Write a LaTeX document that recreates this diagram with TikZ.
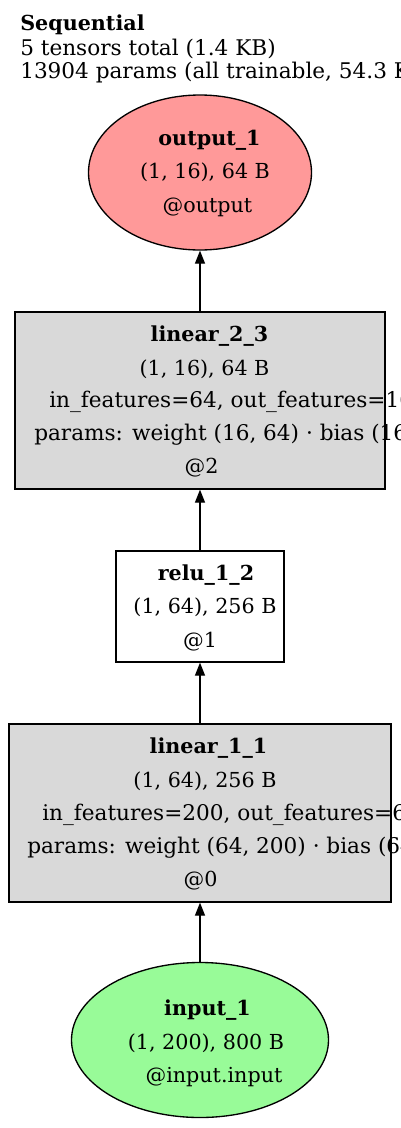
\documentclass[tikz,border=0pt]{standalone}
\usepackage{fontspec}
\setmainfont{DejaVu Serif}
\usetikzlibrary{shapes.geometric,arrows.meta}
\definecolor{outfill}{HTML}{FF9999}
\definecolor{infill}{HTML}{98FB98}
\definecolor{layerfill}{HTML}{D9D9D9}
\tikzset{
  txt/.style={inner sep=0pt, anchor=base, font=\fontsize{15.5}{18}\selectfont},
  txtl/.style={txt, anchor=base west, font=\fontsize{16.2}{18}\selectfont},
  txtb/.style={txt, font=\fontsize{15.5}{18}\selectfont\bfseries},
  tensornode/.style={ellipse, draw, line width=1pt, inner sep=0pt},
  layernode/.style={rectangle, draw, line width=1pt, inner sep=0pt},
  flow/.style={-{Triangle[length=9.75pt,width=7.5pt]}, line width=1pt},
}

\begin{document}
\begin{tikzpicture}[x=0.75pt, y=-0.75pt]
  \useasboundingbox (0,0) rectangle (400,1128);
  \clip (0,0) rectangle (400,1128);
  % summary
  \node[txtb, anchor=base west] (title) at (20,30) {Sequential};
  \node[txtl] (title-tensors) at (20,55) {5 tensors total (1.4 KB)};
  \node[txtl] (title-params) at (20,78) {13904 params (all trainable, 54.3 KB)};

  % shapes
  \node[tensornode, fill=outfill, minimum width=167.25pt, minimum height=116.25pt] (output) at (200,172.5) {};
  \node[layernode, fill=layerfill, minimum width=277.5pt, minimum height=132.75pt] (linear2) at (200,400.5) {};
  \node[layernode, fill=white, minimum width=126pt, minimum height=83.25pt] (relu) at (200,606.5) {};
  \node[layernode, fill=layerfill, minimum width=286.5pt, minimum height=133.5pt] (linear1) at (200,813) {};
  \node[tensornode, fill=infill, minimum width=192.75pt, minimum height=116.25pt] (input) at (200,1040) {};

  % edges
  \draw[flow] (linear2) -- (output);
  \draw[flow] (relu) -- (linear2);
  \draw[flow] (linear1) -- (relu);
  \draw[flow] (input) -- (linear1);

  % output_1
  \node[txtb] (output-name) at (209.5,145) {output\_1};
  \node[txt] (output-shape) at (205,178) {(1, 16), 64 B};
  \node[txt] (output-addr) at (207.5,212) {@output};

  % linear_2_3
  \node[txtb] (linear2-name) at (209.5,341) {linear\_2\_3};
  \node[txt] (linear2-shape) at (204.5,375) {(1, 16), 64 B};
  \node[txtl] (linear2-args) at (49,407) {in\_features=64, out\_features=16};
  \node[txtl] (linear2-params) at (34,440) {params: weight (16, 64) · bias (16,)};
  \node[txt] (linear2-addr) at (201.5,473) {@2};

  % relu_1_2
  \node[txtb] (relu-name) at (206,580) {relu\_1\_2};
  \node[txt] (relu-shape) at (205,613) {(1, 64), 256 B};
  \node[txt] (relu-addr) at (200,647) {@1};

  % linear_1_1
  \node[txtb] (linear1-name) at (208.5,753) {linear\_1\_1};
  \node[txt] (linear1-shape) at (205,787) {(1, 64), 256 B};
  \node[txtl] (linear1-args) at (42,820) {in\_features=200, out\_features=64};
  \node[txtl] (linear1-params) at (27,853) {params: weight (64, 200) · bias (64,)};
  \node[txt] (linear1-addr) at (200.5,886) {@0};

  % input_1
  \node[txtb] (input-name) at (207.5,1015) {input\_1};
  \node[txt] (input-shape) at (206,1049) {(1, 200), 800 B};
  \node[txt] (input-addr) at (214,1082) {@input.input};
\end{tikzpicture}
\end{document}
